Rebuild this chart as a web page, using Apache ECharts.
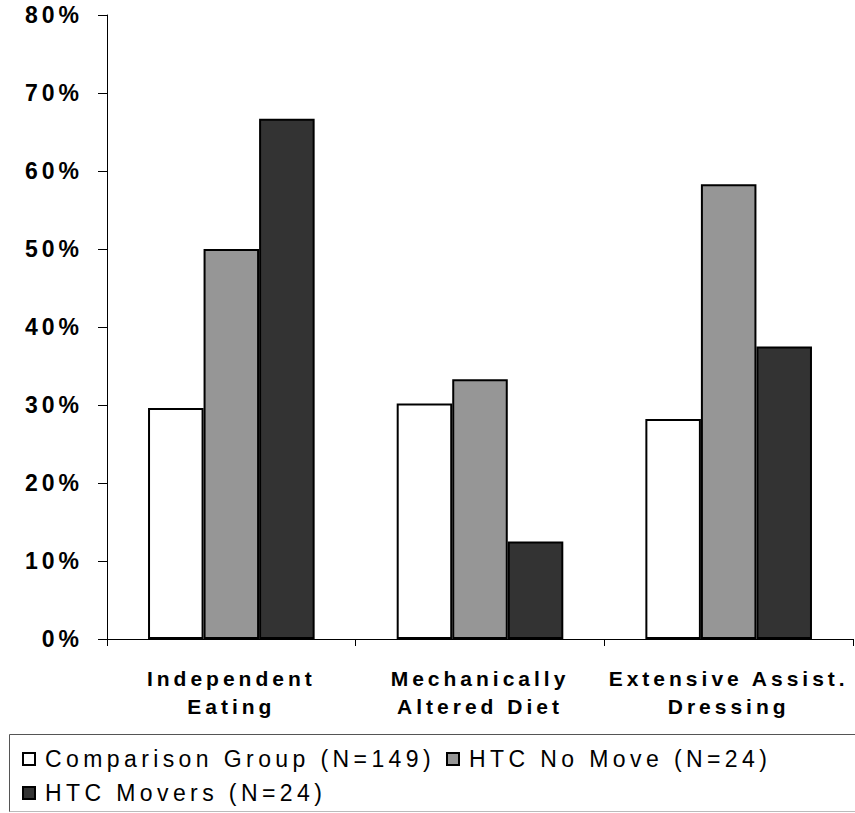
<!DOCTYPE html>
<html>
<head>
<meta charset="utf-8">
<script src="https://cdn.jsdelivr.net/npm/echarts@6/dist/echarts.min.js"></script>
<style>
html,body{margin:0;padding:0;background:#fff;overflow:hidden;}
#chart{width:855px;height:813px;overflow:hidden;}
#chart text{letter-spacing:4px;}
#chart text[style*="23px"]:not([style*="bold"]){letter-spacing:4.4px;}
</style>
</head>
<body>
<div id="chart"></div>
<script>
var categories = ['Independent\nEating', 'Mechanically\nAltered Diet', 'Extensive Assist.\nDressing'];
var seriesNames = ['Comparison Group (N=149)', 'HTC No Move (N=24)', 'HTC Movers (N=24)'];
var comparison = [29.6, 30.2, 28.2];
var noMove = [50.0, 33.3, 58.3];
var movers = [66.7, 12.5, 37.5];
var colors = ['#ffffff', '#969696', '#333333'];

var FONT = "'Liberation Sans', Arial, Helvetica, sans-serif";

function bar(name, data, color) {
  return {
    name: name,
    type: 'bar',
    data: data,
    barGap: '0%',
    barCategoryGap: '33%',
    itemStyle: { color: color, borderColor: '#000', borderWidth: 2 },
    emphasis: { disabled: true }
  };
}

function legend(name, left, top) {
  return {
    data: [name],
    left: left,
    top: top,
    padding: 0,
    itemWidth: 12,
    itemHeight: 12,
    icon: 'rect',
    selectedMode: false,
    textStyle: { fontFamily: FONT, fontSize: 23, color: '#000', padding: [0, 0, 0, 5], lineHeight: 26 }
  };
}

var chart = echarts.init(document.getElementById('chart'), null, { renderer: 'svg' });
chart.setOption({
  animation: false,
  backgroundColor: '#fff',
  grid: { left: 107, right: 2, top: 15, bottom: 174, containLabel: false },
  legend: [
    legend(seriesNames[0], 22, 746),
    legend(seriesNames[1], 446, 746),
    legend(seriesNames[2], 22, 780)
  ],
  graphic: [
    { type: 'line', shape: { x1: 9.5, y1: 734.5, x2: 855, y2: 734.5 }, style: { stroke: '#555', lineWidth: 1 }, silent: true },
    { type: 'line', shape: { x1: 9.5, y1: 734.5, x2: 9.5, y2: 812 }, style: { stroke: '#555', lineWidth: 1 }, silent: true },
    { type: 'line', shape: { x1: 9.5, y1: 811.5, x2: 855, y2: 811.5 }, style: { stroke: '#bbb', lineWidth: 1 }, silent: true }
  ],
  xAxis: {
    type: 'category',
    data: categories,
    axisLine: { lineStyle: { color: '#000', width: 1 } },
    axisTick: { show: true, length: 7, lineStyle: { color: '#000' } },
    axisLabel: {
      fontFamily: FONT, fontSize: 21, fontWeight: 'bold', color: '#000',
      margin: 25, lineHeight: 28, interval: 0
    }
  },
  yAxis: {
    type: 'value',
    min: 0, max: 80, interval: 10,
    axisLine: { show: true, lineStyle: { color: '#000', width: 1 } },
    axisTick: { show: true, length: 9, lineStyle: { color: '#000' } },
    splitLine: { show: false },
    axisLabel: {
      formatter: '{value}%',
      fontFamily: FONT, fontSize: 23, fontWeight: 'bold', color: '#000',
      margin: 24
    }
  },
  series: [
    bar(seriesNames[0], comparison, colors[0]),
    bar(seriesNames[1], noMove, colors[1]),
    bar(seriesNames[2], movers, colors[2])
  ]
});
</script>
</body>
</html>
